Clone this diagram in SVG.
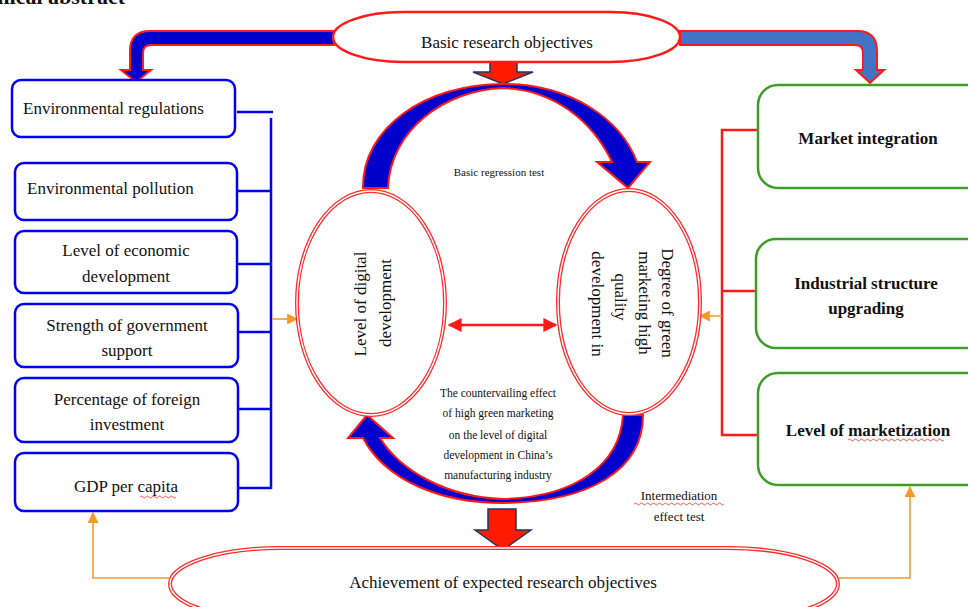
<svg xmlns="http://www.w3.org/2000/svg" width="968" height="607" viewBox="0 0 968 607">
<defs>
<style>
.t{font-family:"Liberation Serif","Times New Roman",serif;fill:#111;}
.lb{fill:#fff;stroke:#0000ee;stroke-width:2.5;}
.rb{fill:#fff;stroke:#3c9e22;stroke-width:2.5;}
.bl{stroke:#0000ee;stroke-width:2.5;fill:none;}
.rl{stroke:#ff1a1a;stroke-width:2.5;fill:none;}
.ol{stroke:#f59a2a;stroke-width:1.6;fill:none;}
.dbl1{fill:#fff;stroke:#ff2a2a;stroke-width:4;}
.dbl2{fill:none;stroke:#fff;stroke-width:1.4;}
.sq{stroke:#ff3030;stroke-width:0.8;fill:none;}
.ba{fill:#0000cc;stroke:#ff1a1a;stroke-width:2;stroke-linejoin:miter;}
.ra{fill:#ff1a00;stroke:#1f3864;stroke-width:1.5;}
</style>
<marker id="oa" viewBox="0 0 10 10" refX="9" refY="5" markerWidth="11" markerHeight="11" markerUnits="userSpaceOnUse" orient="auto"><path d="M0,0 L10,5 L0,10 Z" fill="#f59a2a"/></marker>
<marker id="ora" viewBox="0 0 10 10" refX="9" refY="5" markerWidth="14" markerHeight="14" markerUnits="userSpaceOnUse" orient="auto-start-reverse"><path d="M0,0 L10,5 L0,10 Z" fill="#ff1a1a"/></marker>
</defs>

<text class="t" x="125" y="4" text-anchor="end" font-size="22" font-weight="bold">Graphical abstract</text>

<g id="connectors">
  <path d="M334,31 L150,31 Q130,31 130,51 L130,70 L121,70 L136,82 L151,70 L143,70 L143,53 Q143,45 151,45 L334,45 Z" fill="#0000cc" stroke="#ff1a1a" stroke-width="2"/>
  <path d="M680,31 L857,31 Q877,31 877,51 L877,70 L884,70 L870,83 L856,70 L863,70 L863,53 Q863,45 855,45 L680,45 Z" fill="#4472c4" stroke="#ff1a1a" stroke-width="2"/>
  <path class="ra" d="M490,62 L517,62 L517,72 L533,72 L503,84 L473,72 L490,72 Z"/>
  <path class="ba" d="M363,188 C362,128 425,84 503,84 C570,84 620,118 637,162 L650,162 L628,188 L597,162 L612,162 C593,122 555,90 503,88 C445,90 390,130 388,188 Z"/>
  <path class="ba" d="M643,415 C643,470 590,502 503,503 C440,503 385,480 363,438 L348,438 L367,415 L393,438 L380,438 C400,470 445,497 503,499 C575,497 620,465 623,415 Z"/>
  <path class="ra" d="M488,509 L516,509 L516,530 L531,530 L503,550 L475,530 L488,530 Z"/>
  <line x1="449" y1="325" x2="556" y2="325" class="rl" marker-start="url(#ora)" marker-end="url(#ora)"/>
  <line x1="237" y1="112" x2="273" y2="112" class="bl"/>
  <line x1="271" y1="118" x2="271" y2="489" class="bl"/>
  <line x1="237" y1="191" x2="271" y2="191" class="bl"/>
  <line x1="237" y1="264" x2="271" y2="264" class="bl"/>
  <line x1="238" y1="332" x2="271" y2="332" class="bl"/>
  <line x1="238" y1="409" x2="271" y2="409" class="bl"/>
  <line x1="238" y1="488" x2="271" y2="488" class="bl"/>
  <line x1="272" y1="319" x2="297" y2="319" class="ol" marker-end="url(#oa)"/>
  <line x1="722" y1="129" x2="722" y2="436" class="rl"/>
  <line x1="721" y1="130" x2="758" y2="130" class="rl"/>
  <line x1="721" y1="291" x2="756" y2="291" class="rl"/>
  <line x1="721" y1="435" x2="758" y2="435" class="rl"/>
  <line x1="722" y1="316" x2="700" y2="316" class="ol" marker-end="url(#oa)"/>
  <path d="M170,578 L93,578 L93,513" class="ol" marker-end="url(#oa)"/>
  <path d="M838,578 L910,578 L910,487" class="ol" marker-end="url(#oa)"/>
</g>

<g id="top-objectives">
  <rect x="333" y="12" width="347" height="50" rx="70" ry="25" fill="#fff" stroke="#ff1a1a" stroke-width="2.5"/>
  <text class="t" x="507" y="48" text-anchor="middle" font-size="17">Basic research objectives</text>
</g>

<g id="env-regulations">
  <rect class="lb" x="12" y="80" width="223" height="57" rx="9"/>
  <text class="t" x="23" y="114" font-size="17">Environmental regulations</text>
</g>
<g id="env-pollution">
  <rect class="lb" x="15" y="163" width="222" height="57" rx="9"/>
  <text class="t" x="27" y="194" font-size="17">Environmental pollution</text>
</g>
<g id="economic-development">
  <rect class="lb" x="15" y="231" width="222" height="62" rx="9"/>
  <text class="t" x="126" y="256" text-anchor="middle" font-size="17">Level of economic</text>
  <text class="t" x="126" y="282" text-anchor="middle" font-size="17">development</text>
</g>
<g id="government-support">
  <rect class="lb" x="15" y="304" width="223" height="63" rx="9"/>
  <text class="t" x="127" y="331" text-anchor="middle" font-size="17">Strength of government</text>
  <text class="t" x="127" y="356" text-anchor="middle" font-size="17">support</text>
</g>
<g id="foreign-investment">
  <rect class="lb" x="15" y="378" width="223" height="64" rx="9"/>
  <text class="t" x="127" y="405" text-anchor="middle" font-size="17">Percentage of foreign</text>
  <text class="t" x="127" y="430" text-anchor="middle" font-size="17">investment</text>
</g>
<g id="gdp-per-capita">
  <rect class="lb" x="15" y="453" width="223" height="58" rx="9"/>
  <text class="t" x="126" y="492" text-anchor="middle" font-size="17">GDP per capita</text>
  <path class="sq" d="M140,497 q1.5,-2 3,0 t3,0 t3,0 t3,0 t3,0 t3,0 t3,0 t3,0 t3,0 t3,0 t3,0 t3,0"/>
</g>

<g id="digital-development">
  <ellipse class="dbl1" cx="371" cy="303" rx="74" ry="112"/>
  <ellipse class="dbl2" cx="371" cy="303" rx="74" ry="112"/>
  <text class="t" font-size="17" text-anchor="middle" transform="translate(366,304) rotate(-90)">Level of digital</text>
  <text class="t" font-size="17" text-anchor="middle" transform="translate(391,303) rotate(-90)">development</text>
</g>

<g id="green-marketing">
  <ellipse class="dbl1" cx="629" cy="302" rx="71" ry="112"/>
  <ellipse class="dbl2" cx="629" cy="302" rx="71" ry="112"/>
  <text class="t" font-size="17" text-anchor="middle" transform="translate(662,303) rotate(90)">Degree of green</text>
  <text class="t" font-size="17" text-anchor="middle" transform="translate(639,303) rotate(90)">marketing high</text>
  <text class="t" font-size="17" text-anchor="middle" transform="translate(615,297) rotate(90)">quality</text>
  <text class="t" font-size="17" text-anchor="middle" transform="translate(592,304) rotate(90)">development in</text>
</g>

<g id="market-integration">
  <rect class="rb" x="758" y="85" width="240" height="103" rx="20"/>
  <text class="t" x="868" y="144" text-anchor="middle" font-size="17" font-weight="bold">Market integration</text>
</g>
<g id="industrial-structure">
  <rect class="rb" x="756" y="239" width="240" height="109" rx="20"/>
  <text class="t" x="866" y="289" text-anchor="middle" font-size="17" font-weight="bold">Industrial structure</text>
  <text class="t" x="866" y="314" text-anchor="middle" font-size="17" font-weight="bold">upgrading</text>
</g>
<g id="marketization">
  <rect class="rb" x="758" y="373" width="240" height="112" rx="20"/>
  <text class="t" x="868" y="436" text-anchor="middle" font-size="17" font-weight="bold">Level of marketization</text>
  <path class="sq" d="M848,440 q1.5,-2 3,0 t3,0 t3,0 t3,0 t3,0 t3,0 t3,0 t3,0 t3,0 t3,0 t3,0 t3,0 t3,0 t3,0 t3,0 t3,0 t3,0 t3,0 t3,0 t3,0 t3,0 t3,0 t3,0 t3,0 t3,0 t3,0 t3,0 t3,0 t3,0 t3,0 t3,0 t3,0"/>
</g>

<g id="achievement">
  <rect class="dbl1" x="170" y="548" width="668" height="72" rx="110" ry="36"/>
  <rect class="dbl2" x="170" y="548" width="668" height="72" rx="110" ry="36"/>
  <text class="t" x="503" y="588" text-anchor="middle" font-size="17">Achievement of expected research objectives</text>
</g>

<g id="labels">
  <text class="t" x="499" y="176" text-anchor="middle" font-size="11">Basic regression test</text>
  <text class="t" x="498" y="397" text-anchor="middle" font-size="11.5">The countervailing effect</text>
  <text class="t" x="498" y="417" text-anchor="middle" font-size="11.5">of high green marketing</text>
  <text class="t" x="498" y="439" text-anchor="middle" font-size="11.5">on the level of digital</text>
  <text class="t" x="498" y="459" text-anchor="middle" font-size="11.5">development in China’s</text>
  <text class="t" x="498" y="479" text-anchor="middle" font-size="11.5">manufacturing industry</text>
  <text class="t" x="679" y="500" text-anchor="middle" font-size="13">Intermediation</text>
  <path class="sq" d="M634,504 q1.5,-2 3,0 t3,0 t3,0 t3,0 t3,0 t3,0 t3,0 t3,0 t3,0 t3,0 t3,0 t3,0 t3,0 t3,0 t3,0 t3,0 t3,0 t3,0 t3,0 t3,0 t3,0 t3,0 t3,0 t3,0 t3,0 t3,0 t3,0 t3,0 t3,0 t3,0"/>
  <text class="t" x="679" y="521" text-anchor="middle" font-size="13">effect test</text>
</g>
</svg>
